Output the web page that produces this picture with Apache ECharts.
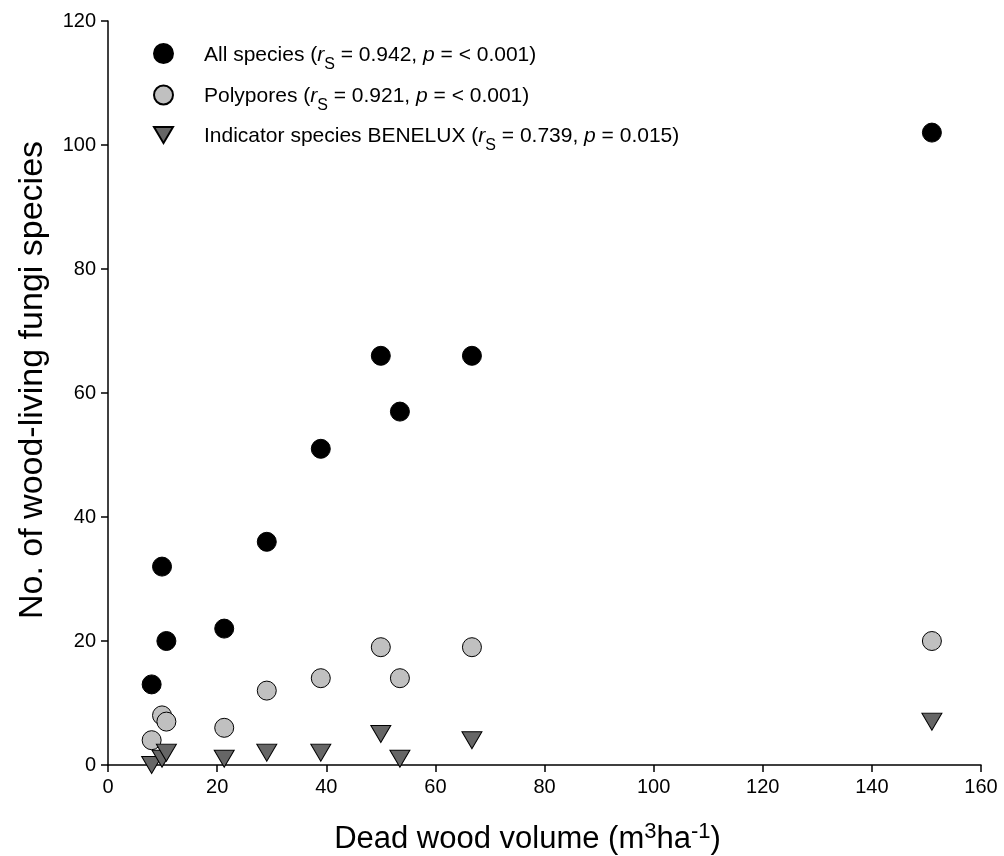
<!DOCTYPE html>
<html>
<head>
<meta charset="utf-8">
<script src="https://cdn.jsdelivr.net/npm/echarts@6/dist/echarts.min.js"></script>
<style>html,body{margin:0;padding:0;background:#fff}#c{width:1004px;height:856px}</style>
</head>
<body>
<div id="c"></div>
<script>
// Data
const deadWood = [8.0, 9.9, 10.7, 21.3, 29.1, 39.0, 50.0, 53.5, 66.7, 151];
const allSpecies = [13, 32, 20, 22, 36, 51, 66, 57, 66, 102];
const polypores = [4, 8, 7, 6, 12, 14, 19, 14, 19, 20];
const indicator = [0, 1, 2, 1, 2, 2, 5, 1, 4, 7];
const seriesNames = ['All species', 'Polypores', 'Indicator species BENELUX'];
const legendLabels = {
  'All species': '{n|All species (}{i|r}{s|S}{n| = 0.942, }{i|p}{n| = < 0.001)}',
  'Polypores': '{n|Polypores (}{i|r}{s|S}{n| = 0.921, }{i|p}{n| = < 0.001)}',
  'Indicator species BENELUX': '{n|Indicator species BENELUX (}{i|r}{s|S}{n| = 0.739, }{i|p}{n| = 0.015)}'
};

const pairs = ys => deadWood.map((x, i) => [x, ys[i]]);
const FONT = '"Liberation Sans", Arial, sans-serif';
const tri = 'path://M0,0 L20,0 L10,17 Z';

const chart = echarts.init(document.getElementById('c'), null, {renderer: 'canvas'});
chart.setOption({
  animation: false,
  backgroundColor: '#fff',
  grid: {left: 108, right: 23, top: 21, bottom: 91, containLabel: false, outerBoundsMode: 'none'},
  legend: {
    orient: 'vertical',
    left: 148,
    top: 38,
    itemWidth: 19,
    itemHeight: 19,
    itemGap: 12,
    data: [
      {name: seriesNames[0], icon: 'circle'},
      {name: seriesNames[1], icon: 'circle'},
      {name: seriesNames[2], icon: tri}
    ],
    formatter: n => legendLabels[n],
    textStyle: {
      fontFamily: FONT,
      fontSize: 21,
      color: '#000',
      padding: [0, 0, 0, 26],
      rich: {
        n: {fontFamily: FONT, fontSize: 21, color: '#000', verticalAlign: 'bottom', lineHeight: 24},
        i: {fontFamily: FONT, fontSize: 21, color: '#000', fontStyle: 'italic', verticalAlign: 'bottom', lineHeight: 24},
        s: {fontFamily: FONT, fontSize: 16, color: '#000', verticalAlign: 'bottom', lineHeight: 24, padding: [0, 0, -7, 0]}
      }
    }
  },
  xAxis: {
    type: 'value',
    min: 0, max: 160, interval: 20,
    name: '{n|Dead wood volume (m}{p|3}{n|ha}{p|-1}{n|)}',
    nameLocation: 'middle',
    nameGap: 60,
    nameTextStyle: {
      padding: [0, 34, 0, 0],
      rich: {
        n: {fontFamily: FONT, fontSize: 31, color: '#000', verticalAlign: 'bottom', lineHeight: 30},
        p: {fontFamily: FONT, fontSize: 22, color: '#000', verticalAlign: 'bottom', lineHeight: 30, padding: [0, 0, 12, 0]}
      }
    },
    axisLine: {show: true, onZero: false, lineStyle: {color: '#000', width: 1.5}},
    axisTick: {show: true, inside: false, length: 7, lineStyle: {color: '#000', width: 1.5}},
    axisLabel: {fontFamily: FONT, fontSize: 20, color: '#000', margin: 12},
    splitLine: {show: false}
  },
  yAxis: {
    type: 'value',
    min: 0, max: 120, interval: 20,
    name: 'No. of wood-living fungi species',
    nameLocation: 'middle',
    nameGap: 58,
    nameTextStyle: {fontFamily: FONT, fontSize: 34, color: '#000', padding: [0, 0, 0, 26]},
    axisLine: {show: true, onZero: false, lineStyle: {color: '#000', width: 1.5}},
    axisTick: {show: true, inside: false, length: 7, lineStyle: {color: '#000', width: 1.5}},
    axisLabel: {fontFamily: FONT, fontSize: 20, color: '#000', margin: 12},
    splitLine: {show: false}
  },
  series: [
    {
      name: seriesNames[0], type: 'scatter', symbol: 'circle', symbolSize: 19,
      data: pairs(allSpecies),
      itemStyle: {color: '#000', borderColor: '#000', borderWidth: 1, opacity: 1}
    },
    {
      name: seriesNames[1], type: 'scatter', symbol: 'circle', symbolSize: 19,
      data: pairs(polypores),
      itemStyle: {color: '#c0c0c0', borderColor: '#000', borderWidth: 1, opacity: 1}
    },
    {
      name: seriesNames[2], type: 'scatter', symbol: tri, symbolSize: [20, 17],
      data: pairs(indicator),
      itemStyle: {color: '#666666', borderColor: '#000', borderWidth: 1, opacity: 1}
    }
  ]
});
</script>
</body>
</html>
